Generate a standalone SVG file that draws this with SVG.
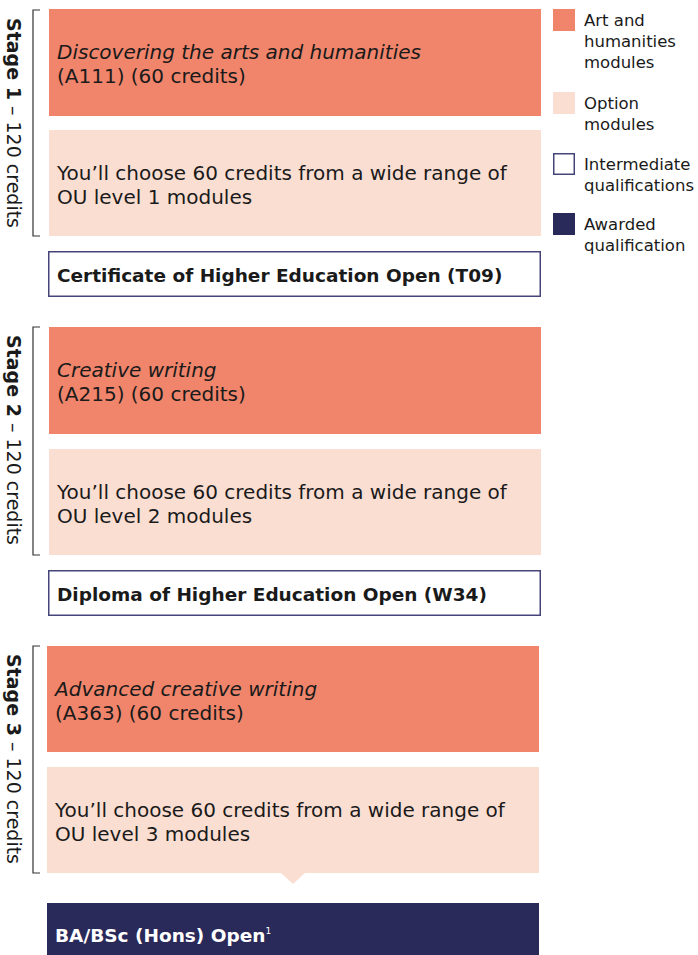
<svg xmlns="http://www.w3.org/2000/svg" width="698" height="955" viewBox="0 0 698 955">
<style>
text{font-family:"DejaVu Sans","Liberation Sans",sans-serif;fill:#1a1a1a}
.core{fill:#F0856B}
.opt{fill:#FBDED2}
.inter{fill:#fff;stroke:#45457A;stroke-width:1.5}
.award{fill:#29295A}
.mod{font-size:20px}
.it{font-style:italic}
.q{font-size:18.5px;font-weight:700}
.stage{font-size:19px}
.leg{font-size:16.5px}
.br{fill:none;stroke:#333;stroke-width:1.2}
</style>
<rect width="698" height="955" fill="#fff"/>
<g id="stage1">
<path class="br" d="M40,10 H33 V236 H40"/>
<text class="stage" transform="translate(7,18) rotate(90)"><tspan font-weight="700">Stage 1</tspan> – 120 credits</text>
</g>
<g id="a111">
<rect class="core" x="49" y="9" width="492" height="107"/>
<text class="mod" x="57" y="59"><tspan class="it">Discovering the arts and humanities</tspan><tspan x="57" dy="24">(A111) (60 credits)</tspan></text>
</g>
<g id="opt1">
<rect class="opt" x="49" y="130" width="492" height="106"/>
<text class="mod" x="57" y="180">You’ll choose 60 credits from a wide range of<tspan x="57" dy="24">OU level 1 modules</tspan></text>
</g>
<g id="cert">
<rect class="inter" x="48.75" y="251.75" width="491.5" height="44.5"/>
<text class="q" x="57" y="282">Certificate of Higher Education Open (T09)</text>
</g>
<g id="stage2">
<path class="br" d="M40,327 H33 V555 H40"/>
<text class="stage" transform="translate(7,335) rotate(90)"><tspan font-weight="700">Stage 2</tspan> – 120 credits</text>
</g>
<g id="a215">
<rect class="core" x="49" y="327" width="492" height="107"/>
<text class="mod" x="57" y="377"><tspan class="it">Creative writing</tspan><tspan x="57" dy="24">(A215) (60 credits)</tspan></text>
</g>
<g id="opt2">
<rect class="opt" x="49" y="449" width="492" height="106"/>
<text class="mod" x="57" y="499">You’ll choose 60 credits from a wide range of<tspan x="57" dy="24">OU level 2 modules</tspan></text>
</g>
<g id="diploma">
<rect class="inter" x="48.75" y="570.75" width="491.5" height="44.5"/>
<text class="q" x="57" y="601">Diploma of Higher Education Open (W34)</text>
</g>
<g id="stage3">
<path class="br" d="M40,646 H33 V873 H40"/>
<text class="stage" transform="translate(7,654) rotate(90)"><tspan font-weight="700">Stage 3</tspan> – 120 credits</text>
</g>
<g id="a363">
<rect class="core" x="47" y="646" width="492" height="106"/>
<text class="mod" x="55" y="696"><tspan class="it">Advanced creative writing</tspan><tspan x="55" dy="24">(A363) (60 credits)</tspan></text>
</g>
<g id="opt3">
<rect class="opt" x="47" y="767" width="492" height="106"/>
<text class="mod" x="55" y="817">You’ll choose 60 credits from a wide range of<tspan x="55" dy="24">OU level 3 modules</tspan></text>
</g>
<g id="connectors">
<path class="opt" d="M281,873 L305,873 L293,884 Z"/>
</g>
<g id="degree">
<rect class="award" x="47" y="903" width="492" height="52"/>
<text class="q" x="55" y="942" style="fill:#fff">BA/BSc (Hons) Open<tspan font-size="9" font-weight="400" dy="-8" style="fill:#fff">1</tspan></text>
</g>
<g id="legend">
<rect class="core" x="553" y="9" width="22" height="22"/>
<text class="leg" x="584" y="26">Art and<tspan x="584" dy="21">humanities</tspan><tspan x="584" dy="21">modules</tspan></text>
<rect class="opt" x="553" y="92" width="22" height="22"/>
<text class="leg" x="584" y="109">Option<tspan x="584" dy="21">modules</tspan></text>
<rect class="inter" x="553.75" y="153.75" width="20.5" height="20.5"/>
<text class="leg" x="584" y="170">Intermediate<tspan x="584" dy="21">qualifications</tspan></text>
<rect class="award" x="553" y="213" width="22" height="22"/>
<text class="leg" x="584" y="230">Awarded<tspan x="584" dy="21">qualification</tspan></text>
</g>
</svg>
